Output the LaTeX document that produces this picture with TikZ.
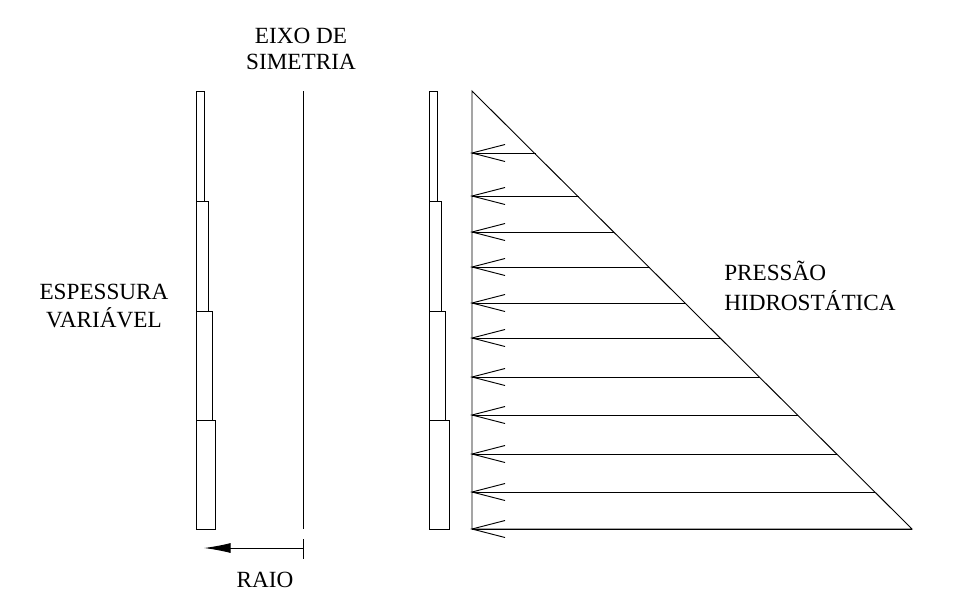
\documentclass[tikz,border=0pt]{standalone}
\usepackage{fontspec}
\setmainfont{Liberation Serif}
\usetikzlibrary{arrows.meta}
\tikzset{
  px/.style={x=0.75pt,y=-0.75pt},
  ln/.style={draw=black,line width=0.7pt},
  lbl/.style={font=\fontsize{17.4pt}{20pt}\selectfont,inner sep=0pt,text=black},
  lblc/.style={lbl,anchor=center},
  lbll/.style={lbl,anchor=west}
}
\begin{document}
\begin{tikzpicture}[px]
\useasboundingbox (0,0) rectangle (969,600);
\fill[white] (0,0) rectangle (969,600);
% left stepped wall
\foreach \xr/\yt/\yb in {204/91/201,208/201/311,212/311/420,215/420/529}{
  \draw[ln] (196,\yt) rectangle (\xr,\yb);
}
% right stepped wall
\foreach \xr/\yt/\yb in {437/91/201,441/201/311,445/311/420,449/420/529}{
  \draw[ln] (429,\yt) rectangle (\xr,\yb);
}
% axis
\coordinate (axT) at (303,91);
\coordinate (axB) at (303,529);
\draw[ln] (axT) -- (axB);
\coordinate (tkT) at (303,539);
\coordinate (tkB) at (303,559);
\draw[ln] (tkT) -- (tkB);
\coordinate (raioS) at (303,548);
\coordinate (raioE) at (204,548);
\draw[ln,-{Latex[length=20pt,width=7.5pt]}] (raioS) -- (raioE);
% triangle
\coordinate (tA) at (472,91);
\coordinate (tB) at (472,529);
\coordinate (tC) at (912,529);
\draw[ln] (tB) -- (tA) -- (tC) -- cycle;
% pressure arrows
\foreach \y/\xe in {153/536,196/579,232/614,267/650,303/686,338/721,377/760,415/798,454/837,492/875,529/912}{
  \coordinate (p\y) at (\xe,\y);
  \coordinate (q\y) at (472,\y);
  \coordinate (u\y) at (505,\y-8.5);
  \coordinate (v\y) at (505,\y+8.5);
  \draw[ln] (p\y) -- (q\y);
  \draw[ln] (u\y) -- (q\y) -- (v\y);
}
% labels
\node[lblc] (eixo) at (301,36) {EIXO DE};
\node[lblc] (sim) at (301,62) {SIMETRIA};
\node[lblc] (esp) at (104,292) {ESPESSURA};
\node[lblc] (var) at (104,318) {VARIÁVEL};
\node[lbll] (pre) at (724,271) {PRESSÃO};
\node[lbll] (hid) at (724,301) {HIDROSTÁTICA};
\node[lblc] (raio) at (265,580) {RAIO};
\end{tikzpicture}
\end{document}
